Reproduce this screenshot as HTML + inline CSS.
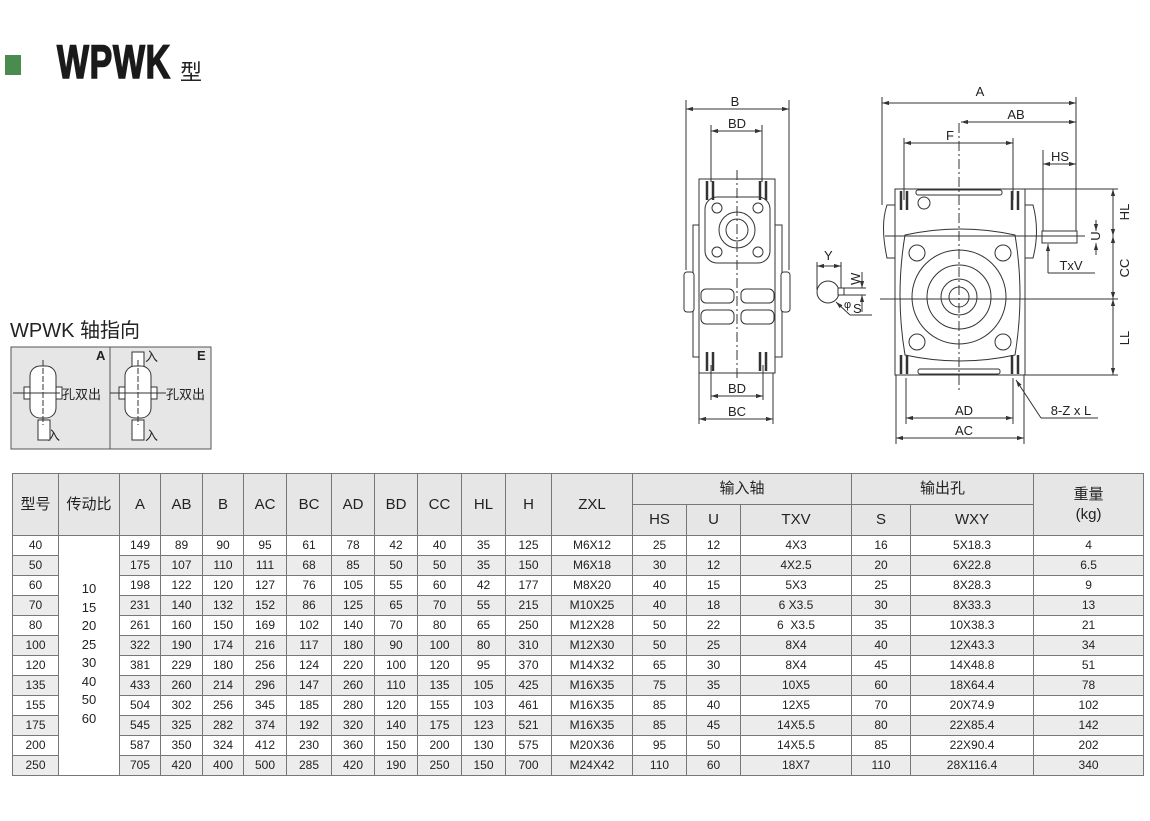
<!DOCTYPE html>
<html><head><meta charset="utf-8"><style>
body{margin:0;width:1150px;height:821px;background:#fff;position:relative;overflow:hidden;font-family:"Liberation Sans","Noto Sans CJK SC",sans-serif;color:#222}
.abs{position:absolute}
table{position:absolute;left:12px;top:473px;border-collapse:collapse;table-layout:fixed;width:1131px}
td{border:1px solid #777;text-align:center;padding:0;font-size:12px;height:19px;line-height:19px;white-space:nowrap;overflow:hidden}
tr.h td{background:#e6e6e6;font-size:15px;height:30px;line-height:30px}
tr.g td.d{background:#ececec}
td.r{background:#fff!important;vertical-align:top;font-size:13px;line-height:18.5px;padding-top:44px}
</style></head><body>
<div class="abs" style="left:5px;top:55px;width:16px;height:20px;background:#4a8c4f"></div>
<div class="abs" style="left:57px;top:34px;font-family:'Liberation Sans',sans-serif;font-size:47px;font-weight:bold;color:#1a1a1a;transform:scaleX(0.72);transform-origin:left top;-webkit-text-stroke:1.6px #1a1a1a;letter-spacing:1px">WPWK</div>
<div class="abs" style="left:180px;top:55px;font-size:22px">型</div>
<div class="abs" style="left:10px;top:314px;font-size:20px">WPWK 轴指向</div>

<svg class="abs" style="left:0;top:0" width="1150" height="470" viewBox="0 0 1150 470" fill="none" stroke="#333" stroke-width="1" font-family="Liberation Sans,sans-serif">
<defs><marker id="a" viewBox="0 0 10 10" refX="10" refY="5" markerWidth="7" markerHeight="7" orient="auto-start-reverse"><path d="M0 2 L10 5 L0 8z" fill="#333" stroke="none"/></marker></defs>
<!-- shaft direction box -->
<rect x="11" y="347" width="200" height="102" fill="#e6e6e6" stroke="#555"/>
<line x1="110" y1="347" x2="110" y2="449" stroke="#555"/>
<g fill="#222" stroke="none" font-size="13">
<text x="96" y="360" font-weight="bold">A</text><text x="197" y="360" font-weight="bold">E</text>
<text x="62" y="399" font-family="Noto Sans CJK SC">孔双出</text><text x="166" y="399" font-family="Noto Sans CJK SC">孔双出</text>
<text x="47" y="440" font-family="Noto Sans CJK SC">入</text><text x="145" y="440" font-family="Noto Sans CJK SC">入</text><text x="145" y="361" font-family="Noto Sans CJK SC">入</text>
</g>
<g fill="#fff">
<rect x="38" y="420" width="12" height="20"/><rect x="30" y="366" width="26" height="52" rx="10"/>
<rect x="24" y="387" width="6" height="12"/><rect x="56" y="387" width="6" height="12"/>
<rect x="132" y="352" width="12" height="16"/><rect x="132" y="420" width="12" height="20"/><rect x="125" y="366" width="26" height="52" rx="10"/>
<rect x="119" y="387" width="6" height="12"/><rect x="151" y="387" width="6" height="12"/>
</g>
<line x1="13" y1="393" x2="60" y2="393"/><line x1="110" y1="393" x2="166" y2="393"/>
<line x1="43" y1="360" x2="43" y2="425" stroke-dasharray="6 2"/><line x1="138" y1="360" x2="138" y2="425" stroke-dasharray="6 2"/>

<!-- side view -->
<g stroke="#333">
<rect x="693" y="225" width="7" height="132" fill="#fff"/><rect x="684" y="272" width="10" height="40" rx="3" fill="#fff"/>
<rect x="775" y="225" width="7" height="132" fill="#fff"/><rect x="781" y="272" width="9" height="40" rx="3" fill="#fff"/>
<rect x="699" y="179" width="76" height="194" fill="#fff"/>
<rect x="705" y="197" width="65" height="66" rx="12" fill="#fff"/>
<circle cx="737" cy="230" r="18"/><circle cx="737" cy="230" r="11"/>
<circle cx="717" cy="208" r="5"/><circle cx="758" cy="208" r="5"/><circle cx="717" cy="252" r="5"/><circle cx="758" cy="252" r="5"/>
<rect x="701" y="289" width="33" height="14" rx="5"/><rect x="741" y="289" width="33" height="14" rx="5"/>
<rect x="701" y="310" width="33" height="14" rx="5"/><rect x="741" y="310" width="33" height="14" rx="5"/>
<g stroke-width="2.5"><line x1="707" y1="181" x2="707" y2="200"/><line x1="713" y1="181" x2="713" y2="200"/><line x1="760" y1="181" x2="760" y2="200"/><line x1="766" y1="181" x2="766" y2="200"/>
<line x1="707" y1="352" x2="707" y2="371"/><line x1="713" y1="352" x2="713" y2="371"/><line x1="760" y1="352" x2="760" y2="371"/><line x1="766" y1="352" x2="766" y2="371"/></g>
<line x1="737" y1="170" x2="737" y2="378" stroke-dasharray="10 3 2 3"/>
<line x1="686" y1="100" x2="686" y2="270"/><line x1="789" y1="100" x2="789" y2="270"/>
<line x1="686" y1="109" x2="789" y2="109" marker-start="url(#a)" marker-end="url(#a)"/>
<line x1="711" y1="125" x2="711" y2="182"/><line x1="762" y1="125" x2="762" y2="182"/><line x1="711" y1="131" x2="762" y2="131" marker-start="url(#a)" marker-end="url(#a)"/>
<line x1="711" y1="365" x2="711" y2="400"/><line x1="763" y1="365" x2="763" y2="400"/><line x1="711" y1="396" x2="763" y2="396" marker-start="url(#a)" marker-end="url(#a)"/>
<line x1="699" y1="373" x2="699" y2="424"/><line x1="773" y1="373" x2="773" y2="424"/><line x1="699" y1="419" x2="773" y2="419" marker-start="url(#a)" marker-end="url(#a)"/>
</g>
<g fill="#222" stroke="none" font-size="13" text-anchor="middle">
<text x="735" y="106">B</text><text x="737" y="128">BD</text><text x="737" y="393">BD</text><text x="737" y="416">BC</text>
</g>

<!-- keyway -->
<circle cx="828" cy="292" r="11" fill="#fff"/><rect x="838" y="288" width="6" height="7" fill="#fff"/>
<line x1="817" y1="262" x2="817" y2="290"/><line x1="841" y1="262" x2="841" y2="288"/><line x1="817" y1="266" x2="841" y2="266" marker-start="url(#a)" marker-end="url(#a)"/>
<line x1="841" y1="288" x2="866" y2="288"/><line x1="841" y1="295" x2="866" y2="295"/><line x1="862" y1="272" x2="862" y2="288" marker-end="url(#a)"/><line x1="862" y1="312" x2="862" y2="295" marker-end="url(#a)"/>
<line x1="850" y1="315" x2="836" y2="302" marker-end="url(#a)"/><line x1="850" y1="315" x2="872" y2="315"/>
<g fill="#222" stroke="none" font-size="13"><text x="824" y="260">Y</text><text x="844" y="308" font-size="11">φ</text><text x="853" y="313">S</text>
<text x="860" y="285" transform="rotate(-90 860 285)" text-anchor="start">W</text></g>

<!-- front view -->
<g stroke="#333">
<path d="M895 205 h-8 q-7 20 0 53 h8 z" fill="#fff"/><path d="M1025 205 h8 q7 26 0 53 h-8 z" fill="#fff"/>
<rect x="1042" y="231" width="35" height="12" fill="#fff"/>
<rect x="895" y="189" width="130" height="186" fill="#fff"/>
<path d="M905 235 q55 -12 110 0 q10 60 0 120 q-55 12 -110 0 q-10 -60 0 -120z" fill="#fff"/>
<circle cx="959" cy="297" r="47"/><circle cx="959" cy="297" r="32"/><circle cx="959" cy="297" r="18"/><circle cx="959" cy="297" r="10"/>
<circle cx="917" cy="253" r="8"/><circle cx="1003" cy="253" r="8"/><circle cx="917" cy="342" r="8"/><circle cx="1003" cy="342" r="8"/>
<circle cx="924" cy="203" r="6"/><rect x="916" y="190" width="86" height="5" rx="2"/><rect x="918" y="369" width="82" height="5" rx="2"/>
<g stroke-width="2.5"><line x1="901" y1="191" x2="901" y2="210"/><line x1="907" y1="191" x2="907" y2="210"/><line x1="1012" y1="191" x2="1012" y2="210"/><line x1="1018" y1="191" x2="1018" y2="210"/>
<line x1="901" y1="355" x2="901" y2="374"/><line x1="907" y1="355" x2="907" y2="374"/><line x1="1012" y1="355" x2="1012" y2="374"/><line x1="1018" y1="355" x2="1018" y2="374"/></g>
<line x1="880" y1="299" x2="1042" y2="299"/><line x1="959" y1="123" x2="959" y2="390" stroke-dasharray="10 3 2 3"/>
<line x1="885" y1="236" x2="1085" y2="236"/>
<line x1="882" y1="97" x2="882" y2="205"/><line x1="1076" y1="97" x2="1076" y2="231"/><line x1="882" y1="103" x2="1076" y2="103" marker-start="url(#a)" marker-end="url(#a)"/>
<line x1="961" y1="122" x2="1076" y2="122" marker-start="url(#a)" marker-end="url(#a)"/>
<line x1="904" y1="138" x2="904" y2="200"/><line x1="1013" y1="138" x2="1013" y2="200"/><line x1="904" y1="143" x2="1013" y2="143" marker-start="url(#a)" marker-end="url(#a)"/>
<line x1="1043" y1="150" x2="1043" y2="231"/><line x1="1043" y1="164" x2="1076" y2="164" marker-start="url(#a)" marker-end="url(#a)"/>
<line x1="1025" y1="189" x2="1118" y2="189"/><line x1="1042" y1="299" x2="1118" y2="299"/><line x1="1025" y1="375" x2="1118" y2="375"/>
<line x1="1113" y1="189" x2="1113" y2="236" marker-start="url(#a)" marker-end="url(#a)"/>
<line x1="1113" y1="236" x2="1113" y2="299" marker-start="url(#a)" marker-end="url(#a)"/>
<line x1="1113" y1="299" x2="1113" y2="375" marker-start="url(#a)" marker-end="url(#a)"/>
<line x1="1096" y1="220" x2="1096" y2="231" marker-end="url(#a)"/><line x1="1096" y1="255" x2="1096" y2="243" marker-end="url(#a)"/>
<line x1="1048" y1="273" x2="1048" y2="244" marker-end="url(#a)"/><line x1="1048" y1="273" x2="1095" y2="273"/>
<line x1="906" y1="378" x2="906" y2="424"/><line x1="1013" y1="378" x2="1013" y2="424"/><line x1="906" y1="418" x2="1013" y2="418" marker-start="url(#a)" marker-end="url(#a)"/>
<line x1="896" y1="375" x2="896" y2="444"/><line x1="1024" y1="375" x2="1024" y2="444"/><line x1="896" y1="438" x2="1024" y2="438" marker-start="url(#a)" marker-end="url(#a)"/>
<line x1="1041" y1="418" x2="1016" y2="380" marker-end="url(#a)"/><line x1="1041" y1="418" x2="1098" y2="418"/>
</g>
<g fill="#222" stroke="none" font-size="13" text-anchor="middle">
<text x="980" y="96">A</text><text x="1016" y="119">AB</text><text x="950" y="140">F</text><text x="1060" y="161">HS</text>
<text x="1071" y="270">TxV</text><text x="964" y="415">AD</text><text x="964" y="435">AC</text><text x="1071" y="415">8-Z x L</text>
<text x="1129" y="212" transform="rotate(-90 1129 212)">HL</text>
<text x="1129" y="268" transform="rotate(-90 1129 268)">CC</text>
<text x="1129" y="338" transform="rotate(-90 1129 338)">LL</text>
<text x="1100" y="236" transform="rotate(-90 1100 236)">U</text>
</g>
</svg>

<table>
<colgroup><col style="width:46px"><col style="width:61px"><col style="width:41px"><col style="width:42px"><col style="width:41px"><col style="width:43px"><col style="width:45px"><col style="width:43px"><col style="width:43px"><col style="width:44px"><col style="width:44px"><col style="width:46px"><col style="width:81px"><col style="width:54px"><col style="width:54px"><col style="width:111px"><col style="width:59px"><col style="width:123px"><col style="width:110px"></colgroup>
<tr class="h"><td rowspan="2">型号</td><td rowspan="2">传动比</td><td rowspan="2">A</td><td rowspan="2">AB</td><td rowspan="2">B</td><td rowspan="2">AC</td><td rowspan="2">BC</td><td rowspan="2">AD</td><td rowspan="2">BD</td><td rowspan="2">CC</td><td rowspan="2">HL</td><td rowspan="2">H</td><td rowspan="2">ZXL</td><td colspan="3">输入轴</td><td colspan="2">输出孔</td><td rowspan="2" style="line-height:20px">重量<br>(kg)</td></tr>
<tr class="h"><td>HS</td><td>U</td><td>TXV</td><td>S</td><td>WXY</td></tr>
<tr><td class="d">40</td><td class="r" rowspan="12">10<br>15<br>20<br>25<br>30<br>40<br>50<br>60</td><td class="d">149</td><td class="d">89</td><td class="d">90</td><td class="d">95</td><td class="d">61</td><td class="d">78</td><td class="d">42</td><td class="d">40</td><td class="d">35</td><td class="d">125</td><td class="d">M6X12</td><td class="d">25</td><td class="d">12</td><td class="d">4X3</td><td class="d">16</td><td class="d">5X18.3</td><td class="d">4</td></tr>
<tr class="g"><td class="d">50</td><td class="d">175</td><td class="d">107</td><td class="d">110</td><td class="d">111</td><td class="d">68</td><td class="d">85</td><td class="d">50</td><td class="d">50</td><td class="d">35</td><td class="d">150</td><td class="d">M6X18</td><td class="d">30</td><td class="d">12</td><td class="d">4X2.5</td><td class="d">20</td><td class="d">6X22.8</td><td class="d">6.5</td></tr>
<tr><td class="d">60</td><td class="d">198</td><td class="d">122</td><td class="d">120</td><td class="d">127</td><td class="d">76</td><td class="d">105</td><td class="d">55</td><td class="d">60</td><td class="d">42</td><td class="d">177</td><td class="d">M8X20</td><td class="d">40</td><td class="d">15</td><td class="d">5X3</td><td class="d">25</td><td class="d">8X28.3</td><td class="d">9</td></tr>
<tr class="g"><td class="d">70</td><td class="d">231</td><td class="d">140</td><td class="d">132</td><td class="d">152</td><td class="d">86</td><td class="d">125</td><td class="d">65</td><td class="d">70</td><td class="d">55</td><td class="d">215</td><td class="d">M10X25</td><td class="d">40</td><td class="d">18</td><td class="d">6 X3.5</td><td class="d">30</td><td class="d">8X33.3</td><td class="d">13</td></tr>
<tr><td class="d">80</td><td class="d">261</td><td class="d">160</td><td class="d">150</td><td class="d">169</td><td class="d">102</td><td class="d">140</td><td class="d">70</td><td class="d">80</td><td class="d">65</td><td class="d">250</td><td class="d">M12X28</td><td class="d">50</td><td class="d">22</td><td class="d">6&nbsp; X3.5</td><td class="d">35</td><td class="d">10X38.3</td><td class="d">21</td></tr>
<tr class="g"><td class="d">100</td><td class="d">322</td><td class="d">190</td><td class="d">174</td><td class="d">216</td><td class="d">117</td><td class="d">180</td><td class="d">90</td><td class="d">100</td><td class="d">80</td><td class="d">310</td><td class="d">M12X30</td><td class="d">50</td><td class="d">25</td><td class="d">8X4</td><td class="d">40</td><td class="d">12X43.3</td><td class="d">34</td></tr>
<tr><td class="d">120</td><td class="d">381</td><td class="d">229</td><td class="d">180</td><td class="d">256</td><td class="d">124</td><td class="d">220</td><td class="d">100</td><td class="d">120</td><td class="d">95</td><td class="d">370</td><td class="d">M14X32</td><td class="d">65</td><td class="d">30</td><td class="d">8X4</td><td class="d">45</td><td class="d">14X48.8</td><td class="d">51</td></tr>
<tr class="g"><td class="d">135</td><td class="d">433</td><td class="d">260</td><td class="d">214</td><td class="d">296</td><td class="d">147</td><td class="d">260</td><td class="d">110</td><td class="d">135</td><td class="d">105</td><td class="d">425</td><td class="d">M16X35</td><td class="d">75</td><td class="d">35</td><td class="d">10X5</td><td class="d">60</td><td class="d">18X64.4</td><td class="d">78</td></tr>
<tr><td class="d">155</td><td class="d">504</td><td class="d">302</td><td class="d">256</td><td class="d">345</td><td class="d">185</td><td class="d">280</td><td class="d">120</td><td class="d">155</td><td class="d">103</td><td class="d">461</td><td class="d">M16X35</td><td class="d">85</td><td class="d">40</td><td class="d">12X5</td><td class="d">70</td><td class="d">20X74.9</td><td class="d">102</td></tr>
<tr class="g"><td class="d">175</td><td class="d">545</td><td class="d">325</td><td class="d">282</td><td class="d">374</td><td class="d">192</td><td class="d">320</td><td class="d">140</td><td class="d">175</td><td class="d">123</td><td class="d">521</td><td class="d">M16X35</td><td class="d">85</td><td class="d">45</td><td class="d">14X5.5</td><td class="d">80</td><td class="d">22X85.4</td><td class="d">142</td></tr>
<tr><td class="d">200</td><td class="d">587</td><td class="d">350</td><td class="d">324</td><td class="d">412</td><td class="d">230</td><td class="d">360</td><td class="d">150</td><td class="d">200</td><td class="d">130</td><td class="d">575</td><td class="d">M20X36</td><td class="d">95</td><td class="d">50</td><td class="d">14X5.5</td><td class="d">85</td><td class="d">22X90.4</td><td class="d">202</td></tr>
<tr class="g"><td class="d">250</td><td class="d">705</td><td class="d">420</td><td class="d">400</td><td class="d">500</td><td class="d">285</td><td class="d">420</td><td class="d">190</td><td class="d">250</td><td class="d">150</td><td class="d">700</td><td class="d">M24X42</td><td class="d">110</td><td class="d">60</td><td class="d">18X7</td><td class="d">110</td><td class="d">28X116.4</td><td class="d">340</td></tr>
</table>
</body></html>
